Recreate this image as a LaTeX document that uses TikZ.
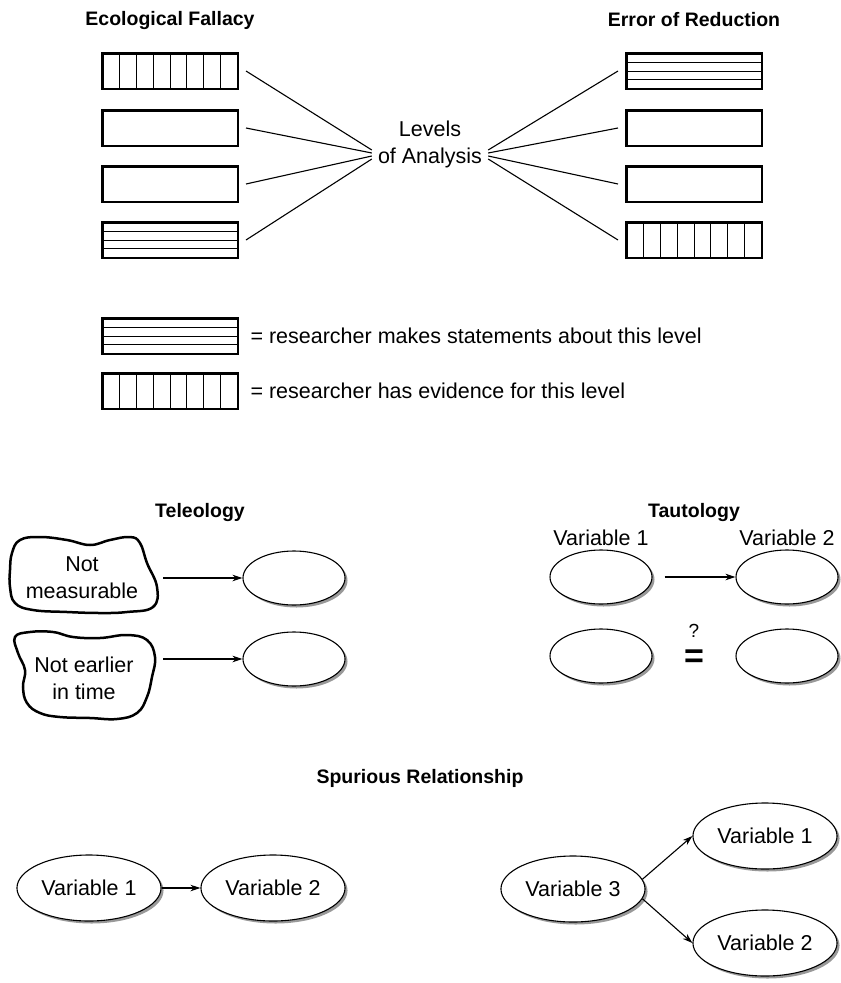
\documentclass[tikz,border=0pt]{standalone}
\usepackage{fontspec}
\setmainfont{Liberation Sans}
\usetikzlibrary{positioning,arrows.meta,shapes.geometric,shadows,calc}

\tikzset{
    title/.style={font=\fontsize{19.5}{24}\selectfont\bfseries},
    levelbox/.style={draw, line width=2.5pt, minimum width=135.5pt,
        minimum height=35.5pt, inner sep=0pt},
    vbars/.style={levelbox, path picture={
        \foreach \i in {1,...,7}
            \draw[line width=0.9pt]
                ($(path picture bounding box.north west)!\i/8!(path picture bounding box.north east)$)
                -- ++(0,-50);}},
    hbars/.style={levelbox, path picture={
        \foreach \i in {1,...,3}
            \draw[line width=0.9pt]
                ($(path picture bounding box.north west)!\i/4!(path picture bounding box.south west)$)
                -- ++(150,0);}},
    blank/.style={ellipse, draw, line width=1.1pt, fill=white,
        minimum width=102pt, minimum height=54pt,
        drop shadow={shadow xshift=2.5pt, shadow yshift=-2.5pt,
            fill=black!40, opacity=1}},
    var/.style={blank, minimum width=134pt, minimum height=66pt},
    arr/.style={line width=1.1pt, -{Stealth[length=10pt,width=6.5pt]}},
    spoke/.style={line width=1.1pt},
    blob/.style={line width=2.5pt}
}

\begin{document}
\begin{tikzpicture}[x=1pt,y=1pt,font=\fontsize{21.5}{27}\selectfont]
    \useasboundingbox (0,0) rectangle (841,-983);

    % Levels of analysis
    \node[title] (ecofall) at (170,-20) {Ecological Fallacy};
    \node[title] (errred) at (694,-20) {Error of Reduction};
    \node[align=center, inner xsep=6pt, inner ysep=0pt] (levels) at (430,-144) {Levels\\of Analysis};

    \node[vbars] (le1) at (170,-71) {};
    \node[levelbox] (le2) at (170,-128) {};
    \node[levelbox] (le3) at (170,-184) {};
    \node[hbars] (le4) at (170,-240) {};

    \node[hbars] (re1) at (694,-71) {};
    \node[levelbox] (re2) at (694,-128) {};
    \node[levelbox] (re3) at (694,-184) {};
    \node[vbars] (re4) at (694,-240) {};

    \foreach \i/\dy in {1/6,2/9,3/12,4/15} {
        \draw[spoke] ([xshift=7pt]le\i.east) -- ([yshift=-\dy pt]levels.west);
        \draw[spoke] ([yshift=-\dy pt]levels.east) -- ([xshift=-7pt]re\i.west);
    }

    % Key
    \node[hbars] (key1) at (170,-336) {};
    \node[vbars] (key2) at (170,-391) {};
    \node[right=8pt of key1] (keytxt1) {= researcher makes statements about this level};
    \node[right=8pt of key2] (keytxt2) {= researcher has evidence for this level};

    % Teleology
    \node[title] (teleo) at (200,-512) {Teleology};
    \draw[blob] plot[smooth cycle, tension=0.7] coordinates {
        (20,-540) (40,-537) (67,-540) (90,-545) (110,-540) (130,-537)
        (140,-543) (147,-563) (157,-587) (153,-607) (127,-612) (100,-613)
        (67,-612) (33,-610) (15,-603) (10,-587) (10,-570) (12,-553)};
    \draw[blob] plot[smooth cycle, tension=0.7] coordinates {
        (15,-637) (30,-632) (53,-632) (73,-637) (100,-638) (127,-635)
        (147,-640) (155,-657) (152,-677) (147,-697) (137,-713) (117,-719)
        (90,-718) (60,-717) (40,-713) (27,-703) (23,-687) (25,-670) (18,-653)};
    \node[align=center] (notmeas) at (82,-578) {Not\\measurable};
    \node[align=center] (notearly) at (84,-678) {Not earlier\\in time};
    \node[blank] (tel1) at (294,-578) {};
    \node[blank] (tel2) at (294,-659) {};
    \coordinate (out1) at (163,-578);
    \coordinate (out2) at (163,-659);
    \draw[arr] (out1) -- (tel1);
    \draw[arr] (out2) -- (tel2);

    % Tautology
    \node[title] (tauto) at (694,-512) {Tautology};
    \node[blank] (tau1) at (601,-577) {};
    \node[blank] (tau2) at (787,-577) {};
    \node[blank] (tau3) at (601,-656) {};
    \node[blank] (tau4) at (787,-656) {};
    \node[above=0pt of tau1] (taulab1) {Variable 1};
    \node[above=0pt of tau2] (taulab2) {Variable 2};
    \draw[arr] ([xshift=12pt]tau1.east) -- (tau2);
    \node[inner sep=0pt, align=center] (query) at (694,-646)
        {{\fontsize{19}{19}\selectfont ?}\\[3pt]{\fontsize{34}{34}\selectfont\bfseries =}};

    % Spurious relationship
    \node[title] (spur) at (420,-778) {Spurious Relationship};
    \node[var] (sv1) at (89,-888) {Variable 1};
    \node[var] (sv2) at (273,-888) {Variable 2};
    \node[var] (sv3) at (573,-889) {Variable 3};
    \node[var] (sv4) at (765,-836) {Variable 1};
    \node[var] (sv5) at (765,-943) {Variable 2};
    \draw[arr] (sv1) -- (sv2);
    \draw[arr] (sv3.8) -- (sv4.west);
    \draw[arr] (sv3.-8) -- (sv5.west);
\end{tikzpicture}
\end{document}
